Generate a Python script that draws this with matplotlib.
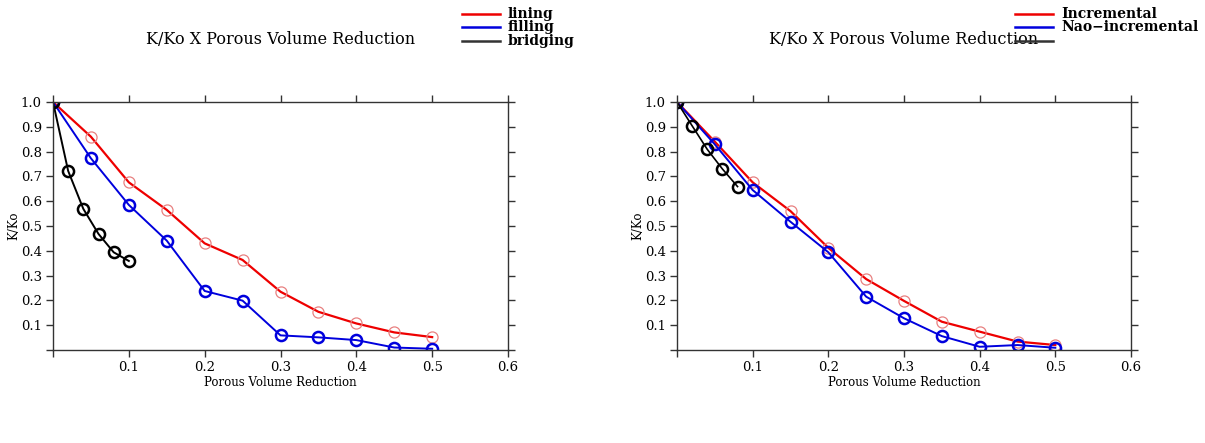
import matplotlib
matplotlib.use("Agg")
from matplotlib import pyplot as plt

# left panel data
x_lin = [0, 0.05, 0.1, 0.15, 0.2, 0.25, 0.3, 0.35, 0.4, 0.45, 0.5]
lining = [1.0, 0.86, 0.676, 0.565, 0.43, 0.363, 0.235, 0.154, 0.107, 0.071, 0.052]
filling = [1.0, 0.773, 0.585, 0.441, 0.238, 0.199, 0.059, 0.051, 0.040, 0.01, 0.005]
x_bri = [0, 0.02, 0.04, 0.06, 0.08, 0.1]
bridging = [1.0, 0.722, 0.569, 0.468, 0.394, 0.359]

# right panel data
incremental = [1.0, 0.84, 0.676, 0.56, 0.412, 0.286, 0.198, 0.114, 0.074, 0.034, 0.02]
nao_incremental = [1.0, 0.829, 0.645, 0.517, 0.394, 0.215, 0.128, 0.056, 0.013, 0.02, 0.009]
x_bri2 = [0, 0.02, 0.04, 0.06, 0.08]
bridging2 = [1.0, 0.904, 0.809, 0.730, 0.659]

xticks = [0.1, 0.2, 0.3, 0.4, 0.5, 0.6]
yticks = [0.1, 0.2, 0.3, 0.4, 0.5, 0.6, 0.7, 0.8, 0.9, 1.0]

plt.rcParams.update({
    'font.family': 'DejaVu Serif',
    'font.size': 9,
    'axes.linewidth': 1.0,
    'axes.edgecolor': '#333333',
})

fig = plt.figure(figsize=(12.05, 4.43), dpi=100)
W, H = 1205, 443
ax1 = fig.add_axes([53 / W, 1 - 350 / H, (508 - 53) / W, (350 - 102) / H])
ax2 = fig.add_axes([677 / W, 1 - 350 / H, (1131 - 677) / W, (350 - 102) / H])

red_marker = dict(marker='o', markersize=8, markerfacecolor='none',
                  markeredgecolor='#e88080', markeredgewidth=0.9)
blue_marker = dict(marker='o', markersize=8, markerfacecolor='none',
                   markeredgecolor='#0000dd', markeredgewidth=1.8)
black_marker = dict(marker='o', markersize=8, markerfacecolor='none',
                    markeredgecolor='black', markeredgewidth=1.8)

ax1.plot(x_lin, lining, color='#ee0000', lw=1.6, **red_marker)
ax1.plot(x_lin, filling, color='#0000dd', lw=1.4, **blue_marker)
ax1.plot(x_bri, bridging, color='black', lw=1.4, **black_marker)

ax2.plot(x_lin, incremental, color='#ee0000', lw=1.6, **red_marker)
ax2.plot(x_lin, nao_incremental, color='#0000dd', lw=1.4, **blue_marker)
ax2.plot(x_bri2, bridging2, color='black', lw=1.2, **black_marker)

for ax in (ax1, ax2):
    ax.set_xlim(0, 0.6)
    ax.set_ylim(0, 1.0)
    ax.set_xticks([0] + xticks)
    ax.set_xticklabels([''] + [f'{t:.1f}' for t in xticks])
    ax.set_yticks([0] + yticks)
    ax.set_yticklabels([''] + [f'{t:.1f}' for t in yticks])
    ax.tick_params(direction='out', length=5, width=1, color='#333333',
                   top=True, right=True, labelsize=9.5, pad=3)
    ax.set_xlabel('Porous Volume Reduction', fontsize=8.5, labelpad=1)
    ax.set_ylabel('K/Ko', fontsize=8.5, labelpad=0)
    ax.set_title('K/Ko X Porous Volume Reduction', fontsize=11.5, pad=42)

# legends drawn as lines + bold text in figure coords
def legend(x0, x1, xt, labels, colors):
    ys = [14, 27, 41]
    for i, c in enumerate(colors):
        y = 1 - ys[i] / H
        fig.add_artist(plt.Line2D([x0 / W, x1 / W], [y, y], color=c, lw=1.8,
                                  transform=fig.transFigure))
        if i < len(labels):
            fig.text(xt / W, y, labels[i], fontsize=10, fontweight='bold',
                     va='center', ha='left')

legend(462, 500, 508, ['lining', 'filling', 'bridging'], ['#ee0000', '#0000dd', '#333333'])
legend(1015, 1053, 1061, ['Incremental', 'Nao\u2212incremental'], ['#ee0000', '#0000dd', '#333333'])

fig.savefig('out.png', dpi=100)
